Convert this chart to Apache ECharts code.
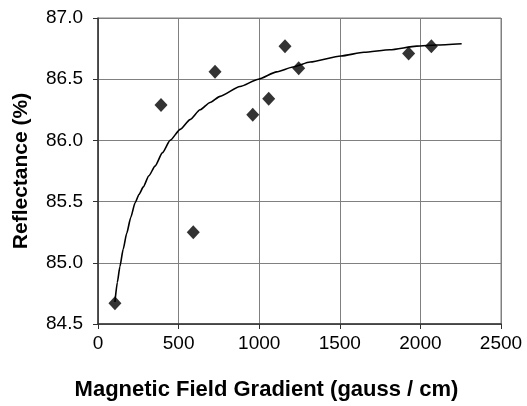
<!DOCTYPE html>
<html>
<head>
<meta charset="utf-8">
<script src="https://cdn.jsdelivr.net/npm/echarts@6/dist/echarts.min.js"></script>
<style>html,body{margin:0;padding:0;background:#fff}#c{width:527px;height:406px}</style>
</head>
<body>
<div id="c"></div>
<script>
// Measured data points
var gradient = [105, 391, 591, 726, 960, 1059, 1160, 1245, 1927, 2068];
var reflectance = [84.67, 86.29, 85.25, 86.56, 86.21, 86.34, 86.77, 86.59, 86.71, 86.77];
// Fitted curve
var fitX = [105, 120, 136, 156, 178, 203, 230, 255, 281, 315, 354, 400, 447, 510, 571, 633, 695, 757, 881, 995, 1108, 1210, 1316, 1507, 1650, 1811, 1977, 2100, 2256];
var fitY = [84.68, 84.84, 84.97, 85.11, 85.24, 85.37, 85.49, 85.56, 85.62, 85.71, 85.79, 85.90, 86.0, 86.09, 86.17, 86.25, 86.31, 86.36, 86.44, 86.50, 86.56, 86.60, 86.64, 86.69, 86.72, 86.74, 86.77, 86.78, 86.79];
var xTicks = [0, 500, 1000, 1500, 2000, 2500];
var yTicks = [84.5, 85.0, 85.5, 86.0, 86.5, 87.0];

var chart = echarts.init(document.getElementById('c'));
var font = 'Liberation Sans, Arial, sans-serif';
chart.setOption({
  animation: false,
  grid: {left: 98, right: 26, top: 18, bottom: 82, show: true, borderColor: '#808080', borderWidth: 1},
  xAxis: {
    type: 'value', min: xTicks[0], max: xTicks[xTicks.length-1], interval: 500,
    axisLine: {show: true, onZero: false, lineStyle: {color: '#303030', width: 1.5}},
    axisTick: {show: true, length: 5, inside: false, lineStyle: {color: '#303030'}},
    splitLine: {show: true, lineStyle: {color: '#808080', width: 1}},
    axisLabel: {color: '#000', fontFamily: font, fontSize: 19, margin: 10, formatter: function(v){return String(v);}},
    name: 'Magnetic Field Gradient (gauss / cm)', nameLocation: 'middle', nameGap: 55,
    nameTextStyle: {color: '#000', fontFamily: font, fontSize: 22, fontWeight: 'bold', padding: [0, 66, 0, 0]}
  },
  yAxis: {
    type: 'value', min: yTicks[0], max: yTicks[yTicks.length-1], interval: 0.5,
    axisLine: {show: true, onZero: false, lineStyle: {color: '#303030', width: 1.5}},
    axisTick: {show: true, length: 5, lineStyle: {color: '#303030'}},
    splitLine: {show: true, lineStyle: {color: '#808080', width: 1}},
    axisLabel: {color: '#000', fontFamily: font, fontSize: 19, margin: 15, formatter: function(v){return v.toFixed(1);}},
    name: 'Reflectance (%)', nameLocation: 'middle', nameGap: 66, nameRotate: 90,
    nameTextStyle: {color: '#000', fontFamily: font, fontSize: 21, fontWeight: 'bold'}
  },
  series: [
    {
      type: 'line', data: fitX.map(function(x,i){return [x, fitY[i]];}),
      smooth: 0.2, smoothMonotone: 'x', showSymbol: false, lineStyle: {color: '#000', width: 1.6}, z: 2
    },
    {
      type: 'scatter', data: gradient.map(function(x,i){return [x, reflectance[i]];}),
      symbol: 'diamond', symbolSize: [13, 14], itemStyle: {color: '#000'}, z: 3
    }
  ]
});
</script>
</body>
</html>
